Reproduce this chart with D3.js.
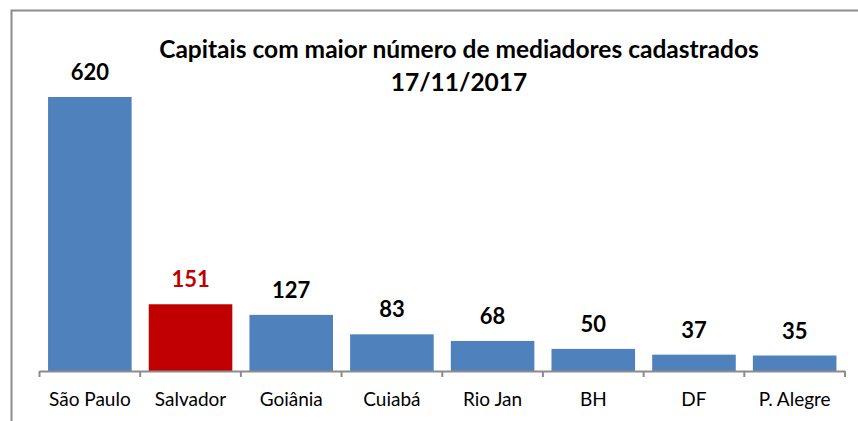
<!DOCTYPE html>
<html>
<head>
<meta charset="utf-8">
<script src="https://cdn.jsdelivr.net/npm/d3@7"></script>
<style>
  body { margin: 0; background: #fff; }
  svg { display: block; font-family: Lato, "Open Sans", sans-serif; }
</style>
</head>
<body>
<svg id="chart" width="858" height="421"></svg>
<script>
const cities = ["São Paulo", "Salvador", "Goiânia", "Cuiabá", "Rio Jan", "BH", "DF", "P. Alegre"];
const counts = [620, 151, 127, 83, 68, 50, 37, 35];
const highlight = ["Salvador"];
const titleLines = ["Capitais com maior número de mediadores cadastrados", "17/11/2017"];

const svg = d3.select("#chart");
const width = +svg.attr("width");
const height = +svg.attr("height");
const margin = { top: 97, right: 13, bottom: 50, left: 39.5 };

// frame
svg.append("path")
  .attr("d", "M11.5," + height + "V10.5H" + width)
  .attr("fill", "none")
  .attr("stroke", "#8c8c8c")
  .attr("stroke-width", 2);

const data = cities.map((c, i) => ({ city: c, value: counts[i] }));

const x = d3.scaleBand()
  .domain(cities)
  .range([margin.left, width - margin.right])
  .paddingInner(0.17)
  .paddingOuter(0.085);

const y = d3.scaleLinear()
  .domain([0, 620])
  .range([height - margin.bottom, margin.top]);

const base = y(0);

svg.append("g")
  .selectAll("rect")
  .data(data)
  .enter()
  .append("rect")
  .attr("x", (d) => x(d.city))
  .attr("y", (d) => y(d.value))
  .attr("width", x.bandwidth())
  .attr("height", (d) => base - y(d.value))
  .attr("fill", (d) => (highlight.includes(d.city) ? "#c00000" : "#4f81bd"));

// axis line and ticks between categories
const step = x.step();
const axis = svg.append("g").attr("stroke", "#8c8c8c").attr("stroke-width", 2);
axis.append("line")
  .attr("x1", margin.left).attr("x2", width - margin.right)
  .attr("y1", base + 0.5).attr("y2", base + 0.5);
d3.range(cities.length + 1).forEach((i) => {
  const tx = margin.left + i * step;
  axis.append("line")
    .attr("x1", tx).attr("x2", tx)
    .attr("y1", base).attr("y2", base + 6);
});

svg.append("g")
  .selectAll("text")
  .data(data)
  .enter()
  .append("text")
  .attr("x", (d) => x(d.city) + x.bandwidth() / 2)
  .attr("y", base + 35)
  .attr("text-anchor", "middle")
  .attr("font-size", 19)
  .attr("fill", "#000")
  .text((d) => d.city);

// value labels
svg.append("g")
  .selectAll("text")
  .data(data)
  .enter()
  .append("text")
  .attr("x", (d) => x(d.city) + x.bandwidth() / 2)
  .attr("y", (d) => y(d.value) - 17)
  .attr("text-anchor", "middle")
  .attr("font-size", 22)
  .attr("font-weight", "bold")
  .attr("fill", (d) => (highlight.includes(d.city) ? "#c00000" : "#000"))
  .text((d) => d.value);

svg.append("text")
  .attr("text-anchor", "middle")
  .attr("font-size", 24.5)
  .attr("font-weight", "bold")
  .selectAll("tspan")
  .data(titleLines)
  .enter()
  .append("tspan")
  .attr("x", 459)
  .attr("y", (d, i) => 58 + i * 33)
  .text((d) => d);
</script>
</body>
</html>
